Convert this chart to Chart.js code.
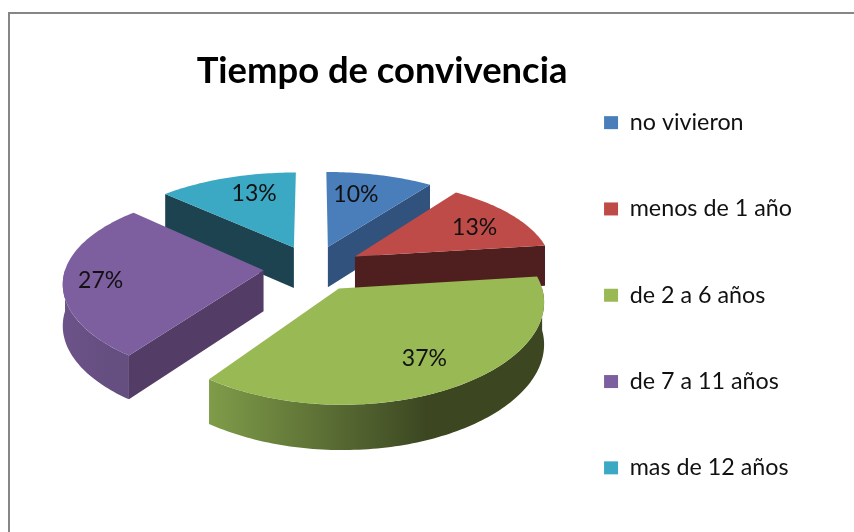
<!DOCTYPE html>
<html>
<head>
<meta charset="utf-8">
<title>Tiempo de convivencia</title>
<script src="https://cdn.jsdelivr.net/npm/chart.js@4"></script>
<style>
  html, body { margin: 0; background: #fff; }
  #wrap { position: relative; width: 854px; height: 532px; }
</style>
</head>
<body>
<div id="wrap"><canvas id="pie" width="854" height="532"></canvas></div>
<script>
const titleText = 'Tiempo de convivencia';
const categories = ['no vivieron', 'menos de 1 año', 'de 2 a 6 años', 'de 7 a 11 años', 'mas de 12 años'];
const percents = [10, 13, 37, 27, 13];
const colors = ['#4a7ebb', '#be4b48', '#98b954', '#7d5fa0', '#3ca9c4'];
const faceColors = ['#30527c', '#4f1f1f', '#3e4a24', '#533d66', '#1d4350'];
const rimLight = ['#4a7ebb', '#be4b48', '#7f9c49', '#6c5389', '#3ca9c4'];
const rimDark = ['#30527c', '#4f1f1f', '#3c4722', '#654e80', '#1d4350'];

// nudge of each percent label away from the 3/4 radius spot
const labelNudge = [[-12, 3], [1, 3], [-1, 0], [-13, 4], [12, 0]];

// fake 3D: camera looking down at the pie, near side bigger than the far side
const view = { cx: 313, cy: 268, scaleX: 198, scaleY: 92, depthX: 0.12, depthY: 0.15, explode: 0.25, wall: 41 };

// angle is canvas style (radians, 0 = 3 o'clock), r is 0..1 of the radius
function project(arc, angle, r) {
  const mid = (arc.startAngle + arc.endAngle) / 2;
  const u = view.explode * Math.cos(mid) + r * Math.cos(angle);
  const v = view.explode * Math.sin(mid) + r * Math.sin(angle);
  const w = 1 - view.depthY * v;
  return {
    x: view.cx + view.scaleX * u / (1 - view.depthX * v),
    y: view.cy + view.scaleY * v / w,
    h: view.wall / Math.sqrt(w)
  };
}

function arcPoints(arc, from, to) {
  const steps = Math.max(2, Math.ceil((to - from) / 0.02));
  const pts = [];
  for (let s = 0; s <= steps; s++) pts.push(project(arc, from + (to - from) * s / steps, 1));
  return pts;
}

function fillPolygon(ctx, pts, fill) {
  ctx.fillStyle = fill;
  ctx.beginPath();
  pts.forEach((p, n) => (n ? ctx.lineTo(p.x, p.y) : ctx.moveTo(p.x, p.y)));
  ctx.closePath();
  ctx.fill();
}

function drawSlice(ctx, arc, i) {
  const top = arcPoints(arc, arc.startAngle, arc.endAngle);
  const apex = project(arc, 0, 0);

  // flat cut face where a straight edge turns towards the viewer
  const edges = [];
  if (Math.cos(arc.startAngle) < -0.01) edges.push(top[0]);
  if (Math.cos(arc.endAngle) > 0.01) edges.push(top[top.length - 1]);
  edges.forEach(e => {
    fillPolygon(ctx, [apex, e, { x: e.x, y: e.y + e.h }, { x: apex.x, y: apex.y + apex.h }], faceColors[i]);
  });

  // curved rim, only the part on the near half of the pie
  const from = Math.max(arc.startAngle, 0);
  const to = Math.min(arc.endAngle, Math.PI);
  if (to > from) {
    const rim = arcPoints(arc, from, to);
    const minX = Math.min(...top.map(p => p.x));
    const maxX = Math.max(...top.map(p => p.x));
    const grad = ctx.createLinearGradient(minX, 0, minX + (maxX - minX) * 0.65, 0);
    grad.addColorStop(0, rimLight[i]);
    grad.addColorStop(1, rimDark[i]);
    const low = rim.slice().reverse().map(p => ({ x: p.x, y: p.y + p.h }));
    fillPolygon(ctx, rim.concat(low), grad);
  }

  fillPolygon(ctx, [apex].concat(top), arc.options.backgroundColor);
}

const pie3dPlugin = {
  id: 'pie3d',
  afterLayout(chart) {
    // title sits left of the page centre and is wider than the area the legend leaves it
    chart.titleBlock.left = 162;
    chart.titleBlock.right = 602;
  },
  beforeDraw(chart) {
    const ctx = chart.ctx;
    ctx.save();
    ctx.fillStyle = '#868686';
    ctx.fillRect(8, 12, 846, 2);
    ctx.fillRect(8, 12, 2, 520);
    ctx.restore();
  },
  beforeDatasetDraw(chart, args) {
    const ctx = chart.ctx;
    const arcs = chart.getDatasetMeta(args.index).data;
    // far slices first so the near ones cover their walls
    const order = arcs.map((arc, i) => ({ arc, i, mid: (arc.startAngle + arc.endAngle) / 2 }))
      .sort((a, b) => Math.sin(a.mid) - Math.sin(b.mid));
    order.forEach(({ arc, i }) => drawSlice(ctx, arc, i));

    // percent labels
    ctx.fillStyle = '#111';
    ctx.font = '23px Lato';
    ctx.textAlign = 'center';
    ctx.textBaseline = 'middle';
    arcs.forEach((arc, i) => {
      const p = project(arc, (arc.startAngle + arc.endAngle) / 2, 0.75);
      ctx.fillText(percents[i] + '%', p.x + labelNudge[i][0], p.y + labelNudge[i][1]);
    });
    return false;
  }
};

new Chart(document.getElementById('pie'), {
  type: 'pie',
  data: {
    labels: categories,
    datasets: [{ data: percents, backgroundColor: colors, borderWidth: 0 }]
  },
  options: {
    responsive: false,
    animation: false,
    layout: { padding: { left: 160, top: 48, right: 52, bottom: -40 } },
    plugins: {
      tooltip: { enabled: false },
      title: {
        display: true,
        text: titleText,
        fullSize: false,
        color: '#000',
        font: { family: 'Lato', size: 36.4, weight: 'bold' },
        padding: { top: 1, bottom: 0 }
      },
      legend: {
        position: 'right',
        align: 'start',
        labels: {
          color: '#111',
          font: { family: 'Lato', size: 23.3 },
          boxWidth: 14,
          boxHeight: 13,
          padding: 63
        }
      }
    }
  },
  plugins: [pie3dPlugin]
});
</script>
</body>
</html>
